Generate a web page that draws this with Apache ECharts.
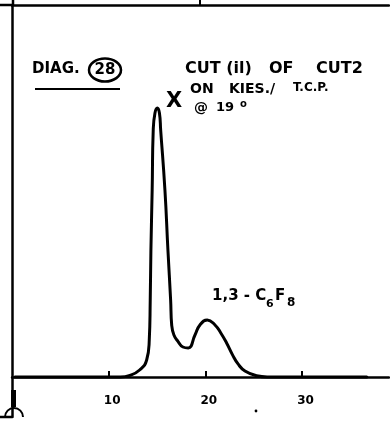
<!DOCTYPE html>
<html>
<head>
<meta charset="utf-8">
<script src="https://cdn.jsdelivr.net/npm/echarts@6/dist/echarts.min.js"></script>
<style>
  html, body { margin: 0; padding: 0; background: #fff; }
  #chart { width: 390px; height: 421px; }
</style>
</head>
<body>
<div id="chart"></div>
<script>
// Chromatogram trace: retention (chart divisions) vs detector response (baseline = 0)
const retention = [0.3, 11.2, 12.2, 13.2, 13.93, 14.2, 14.3, 14.37, 14.5, 14.61, 14.79, 15.03,
  15.25, 15.38, 15.82, 16.13, 16.41, 16.52, 16.75, 17.2, 17.68, 18.23, 18.93, 19.44,
  20.2, 21.0, 21.6, 22.2, 22.8, 23.4, 24.1, 25.3, 26.4, 36.7];
const response = [0, 0, 0.4, 1.75, 4.25, 9.25, 19.25, 31.75, 46.75, 61.75, 66, 67.25,
  66, 61.75, 46.75, 31.75, 19.25, 13, 10.5, 8.8, 7.5, 7.25, 10.5, 13,
  14.25, 13, 11, 8.5, 5.6, 3.2, 1.5, 0.3, 0, 0];

const tickValues = [10, 20, 30];
const tickLabels = ['10', '20', '30'];
const topTick = [19.4];

const trace = retention.map((x, i) => [x, response[i]]);

const ink = '#000';
const hand = '"DejaVu Sans", sans-serif';

const chart = echarts.init(document.getElementById('chart'), null, { renderer: 'canvas' });

chart.setOption({
  animation: false,
  backgroundColor: '#fff',
  grid: { left: 12, right: 1, top: 5, bottom: 4 },
  xAxis: [
    {
      type: 'value', min: 0, max: 39, position: 'bottom',
      axisLine: { show: true, lineStyle: { color: ink, width: 2.5 } },
      axisTick: { show: true, inside: true, length: 6, customValues: tickValues,
        lineStyle: { color: ink, width: 2 } },
      axisLabel: { show: true, inside: true, margin: 10, customValues: tickValues,
        formatter: v => tickLabels[tickValues.indexOf(v)] || '',
        color: ink, fontFamily: hand, fontWeight: 'bold', fontSize: 12,
        padding: [0, 0, 0, 7] },
      splitLine: { show: false }
    },
    {
      type: 'value', min: 0, max: 39, position: 'top',
      axisLine: { show: true, lineStyle: { color: ink, width: 2.5 } },
      axisTick: { show: true, inside: false, length: 5, customValues: topTick,
        lineStyle: { color: ink, width: 2 } },
      axisLabel: { show: false },
      splitLine: { show: false }
    }
  ],
  yAxis: {
    type: 'value', min: -10, max: 93,
    axisLine: { show: true, lineStyle: { color: ink, width: 2.5 } },
    axisTick: { show: false },
    axisLabel: { show: false },
    splitLine: { show: false }
  },
  series: [{
    type: 'line',
    xAxisIndex: 0,
    data: trace,
    smooth: 0.5,
    symbol: 'none',
    lineStyle: { color: ink, width: 3, cap: 'round', join: 'round' }
  }]
});

// Hand-lettered annotations and small pen marks
const txt = (text, x, y, size, extra) => ({
  type: 'text', x, y,
  style: Object.assign({ text, fill: ink, font: 'bold ' + size + 'px ' + hand,
    verticalAlign: 'middle', align: 'left' }, extra || {})
});

chart.setOption({
  graphic: [
    // extensions of the frame lines to the page edge
    { type: 'line', shape: { x1: 0, y1: 5, x2: 12, y2: 5 }, style: { stroke: ink, lineWidth: 2.5 } },
    { type: 'line', shape: { x1: 0, y1: 417, x2: 12, y2: 417 }, style: { stroke: ink, lineWidth: 2.5 } },
    { type: 'line', shape: { x1: 13, y1: 0, x2: 13, y2: 6 }, style: { stroke: ink, lineWidth: 2.5 } },
    // pen blob and arch at the origin
    { type: 'line', shape: { x1: 13.5, y1: 390, x2: 13.5, y2: 407 }, style: { stroke: ink, lineWidth: 5 } },
    { type: 'arc', shape: { cx: 14, cy: 417, r: 9, startAngle: Math.PI, endAngle: Math.PI * 2 },
      style: { stroke: ink, lineWidth: 2, fill: null } },
    // stray dot on the axis
    { type: 'circle', shape: { cx: 256, cy: 411, r: 1.4 }, style: { fill: ink } },

    txt('DIAG.', 32, 69, 15),
    { type: 'ellipse', shape: { cx: 105, cy: 70, rx: 16, ry: 11.5 },
      style: { stroke: ink, lineWidth: 2.5, fill: null } },
    txt('28', 105, 70, 15, { align: 'center' }),
    { type: 'line', shape: { x1: 35, y1: 89, x2: 120, y2: 89 }, style: { stroke: ink, lineWidth: 2 } },

    txt('CUT (il)', 185, 69, 16),
    txt('OF', 269, 69, 16),
    txt('CUT2', 316, 69, 16),
    txt('ON', 190, 89, 14),
    txt('KIES./', 229, 89, 14),
    txt('T.C.P.', 293, 88, 12),
    txt('X', 166, 102, 21),
    txt('@', 194, 108, 14),
    txt('19', 216, 108, 13),
    txt('o', 240, 104, 10),

    txt('1,3 - C', 212, 296, 15),
    txt('6', 266, 304, 11),
    txt('F', 275, 296, 15),
    txt('8', 287, 303, 12)
  ]
});
</script>
</body>
</html>
